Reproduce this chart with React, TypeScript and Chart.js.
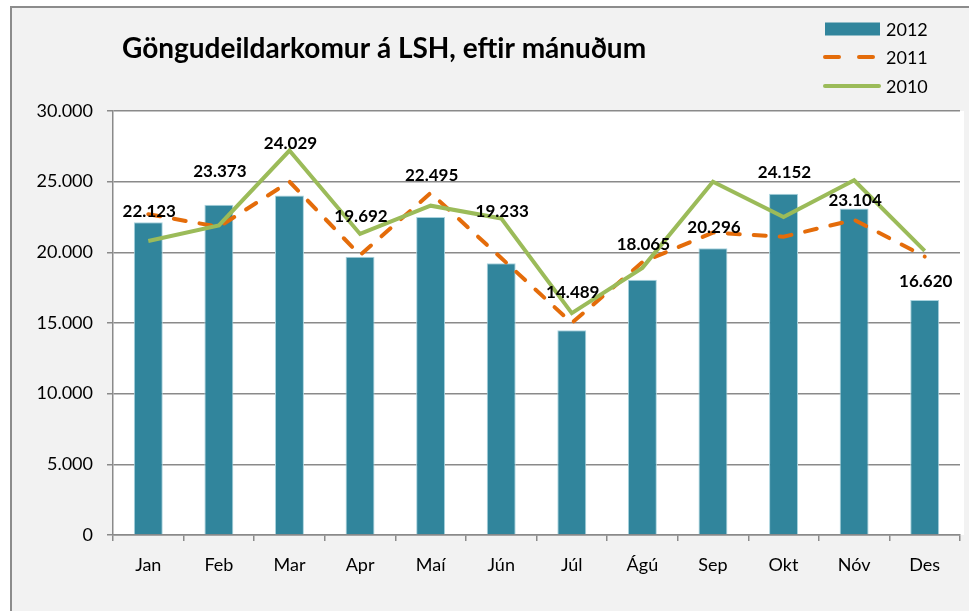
import React, { useEffect, useRef } from 'react';
import { Chart, registerables } from 'chart.js';

Chart.register(...registerables);

const months = ['Jan', 'Feb', 'Mar', 'Apr', 'Maí', 'Jún', 'Júl', 'Ágú', 'Sep', 'Okt', 'Nóv', 'Des'];
const visits2012 = [22123, 23373, 24029, 19692, 22495, 19233, 14489, 18065, 20296, 24152, 23104, 16620];
const visits2011 = [22700, 21800, 25000, 19800, 24200, 19600, 15000, 19300, 21400, 21100, 22300, 19700];
const visits2010 = [20800, 21900, 27200, 21300, 23300, 22400, 15700, 18900, 25000, 22500, 25100, 20100];
const seriesNames = ['2012', '2011', '2010'];
const titleText = 'Göngudeildarkomur á LSH, eftir mánuðum';
// how far (px) each 2012 value label sits above its bar
const labelLift = [11, 33, 52, 40, 42, 52, 38, 35, 21, 21, 8, 19];

const BAR = '#31859C';
const ORANGE = '#E46C0A';
const GREEN = '#9BBB59';
const GRID = '#8a8a8a';
const FONT = 'Lato, "Open Sans", sans-serif';

const fmt = (n: number) => Math.round(n).toString().replace(/\B(?=(\d{3})+(?!\d))/g, '.');

const decorPlugin = {
  id: 'decor',
  beforeDraw(chart: any) {
    const { ctx, width, height, chartArea } = chart;
    ctx.save();
    ctx.fillStyle = '#ffffff';
    ctx.fillRect(0, 0, width, height);
    ctx.fillStyle = '#f2f2f2';
    ctx.fillRect(12, 8, width - 12, height - 8);
    ctx.strokeStyle = '#8c8c8c';
    ctx.lineWidth = 2;
    ctx.beginPath();
    ctx.moveTo(11, height);
    ctx.lineTo(11, 7);
    ctx.lineTo(width, 7);
    ctx.stroke();
    ctx.fillStyle = '#ffffff';
    ctx.fillRect(chartArea.left, chartArea.top, chartArea.right - chartArea.left + 4, chartArea.bottom - chartArea.top);
    ctx.restore();
  },
  afterDatasetsDraw(chart: any) {
    const { ctx } = chart;
    ctx.save();
    // value labels
    const meta = chart.getDatasetMeta(0);
    ctx.font = `bold 17px ${FONT}`;
    ctx.fillStyle = '#000000';
    ctx.textAlign = 'center';
    ctx.textBaseline = 'middle';
    meta.data.forEach((bar: any, i: number) => {
      ctx.fillText(fmt(visits2012[i]), bar.x + 1, bar.y - labelLift[i]);
    });
    // title
    ctx.font = `bold 28px ${FONT}`;
    ctx.textAlign = 'left';
    ctx.fillText(titleText, 122, 49);
    // legend
    ctx.font = `18px ${FONT}`;
    const lx = 823;
    const rows = [29, 57, 86];
    ctx.fillStyle = BAR;
    ctx.fillRect(lx + 2, rows[0] - 6.5, 55, 13);
    ctx.lineWidth = 4;
    ctx.lineCap = 'round';
    ctx.strokeStyle = ORANGE;
    ctx.beginPath();
    ctx.moveTo(lx + 2, rows[1]);
    ctx.lineTo(lx + 16, rows[1]);
    ctx.moveTo(lx + 36, rows[1]);
    ctx.lineTo(lx + 50, rows[1]);
    ctx.stroke();
    ctx.strokeStyle = GREEN;
    ctx.beginPath();
    ctx.moveTo(lx + 2, rows[2]);
    ctx.lineTo(lx + 56, rows[2]);
    ctx.stroke();
    ctx.fillStyle = '#000000';
    seriesNames.forEach((name, i) => ctx.fillText(name, 886, rows[i] + 1));
    ctx.restore();
  },
};

export default function App() {
  const ref = useRef<HTMLCanvasElement | null>(null);
  useEffect(() => {
    if (!ref.current) return;
    const chart = new Chart(ref.current, {
      type: 'bar',
      data: {
        labels: months,
        datasets: [
          {
            type: 'bar',
            label: seriesNames[0],
            data: visits2012,
            backgroundColor: BAR,
            borderColor: '#a9d3de',
            borderWidth: 1,
            barPercentage: 0.41,
            categoryPercentage: 1,
            order: 3,
          } as any,
          {
            type: 'line',
            label: seriesNames[1],
            data: visits2011,
            borderColor: ORANGE,
            backgroundColor: ORANGE,
            borderWidth: 4,
            borderDash: [12, 14],
            borderCapStyle: 'round',
            pointRadius: 0,
            tension: 0,
            order: 2,
          },
          {
            type: 'line',
            label: seriesNames[2],
            data: visits2010,
            borderColor: GREEN,
            backgroundColor: GREEN,
            borderWidth: 4,
            pointRadius: 0,
            tension: 0,
            order: 1,
          },
        ],
      },
      options: {
        responsive: false,
        animation: false,
        layout: { padding: { top: 111, right: 9, bottom: 0, left: 0 } },
        plugins: {
          legend: { display: false },
          title: { display: false },
          tooltip: { enabled: false },
        },
        scales: {
          x: {
            offset: true,
            afterFit: (s: any) => { s.height = 76; },
            grid: { offset: true, drawOnChartArea: false, drawTicks: true, tickLength: 6, color: GRID, lineWidth: 1.5 },
            border: { color: GRID, width: 1.5 },
            ticks: { color: '#000000', font: { family: FONT, size: 18 }, padding: 13, maxRotation: 0 },
          },
          y: {
            min: 0,
            max: 30000,
            afterFit: (s: any) => { s.width = 113; },
            grid: { color: GRID, lineWidth: 1.5, tickLength: 6 },
            border: { color: GRID, width: 1.5 },
            ticks: {
              stepSize: 5000,
              color: '#000000',
              font: { family: FONT, size: 18 },
              padding: 14,
              callback: (v: any) => fmt(Number(v)),
            },
          },
        },
      },
      plugins: [decorPlugin],
    });
    return () => chart.destroy();
  }, []);
  return (
    <div style={{ position: 'fixed', left: 0, top: 0, width: 969, height: 611 }}>
      <canvas ref={ref} width={969} height={611} style={{ display: 'block' }} />
    </div>
  );
}
